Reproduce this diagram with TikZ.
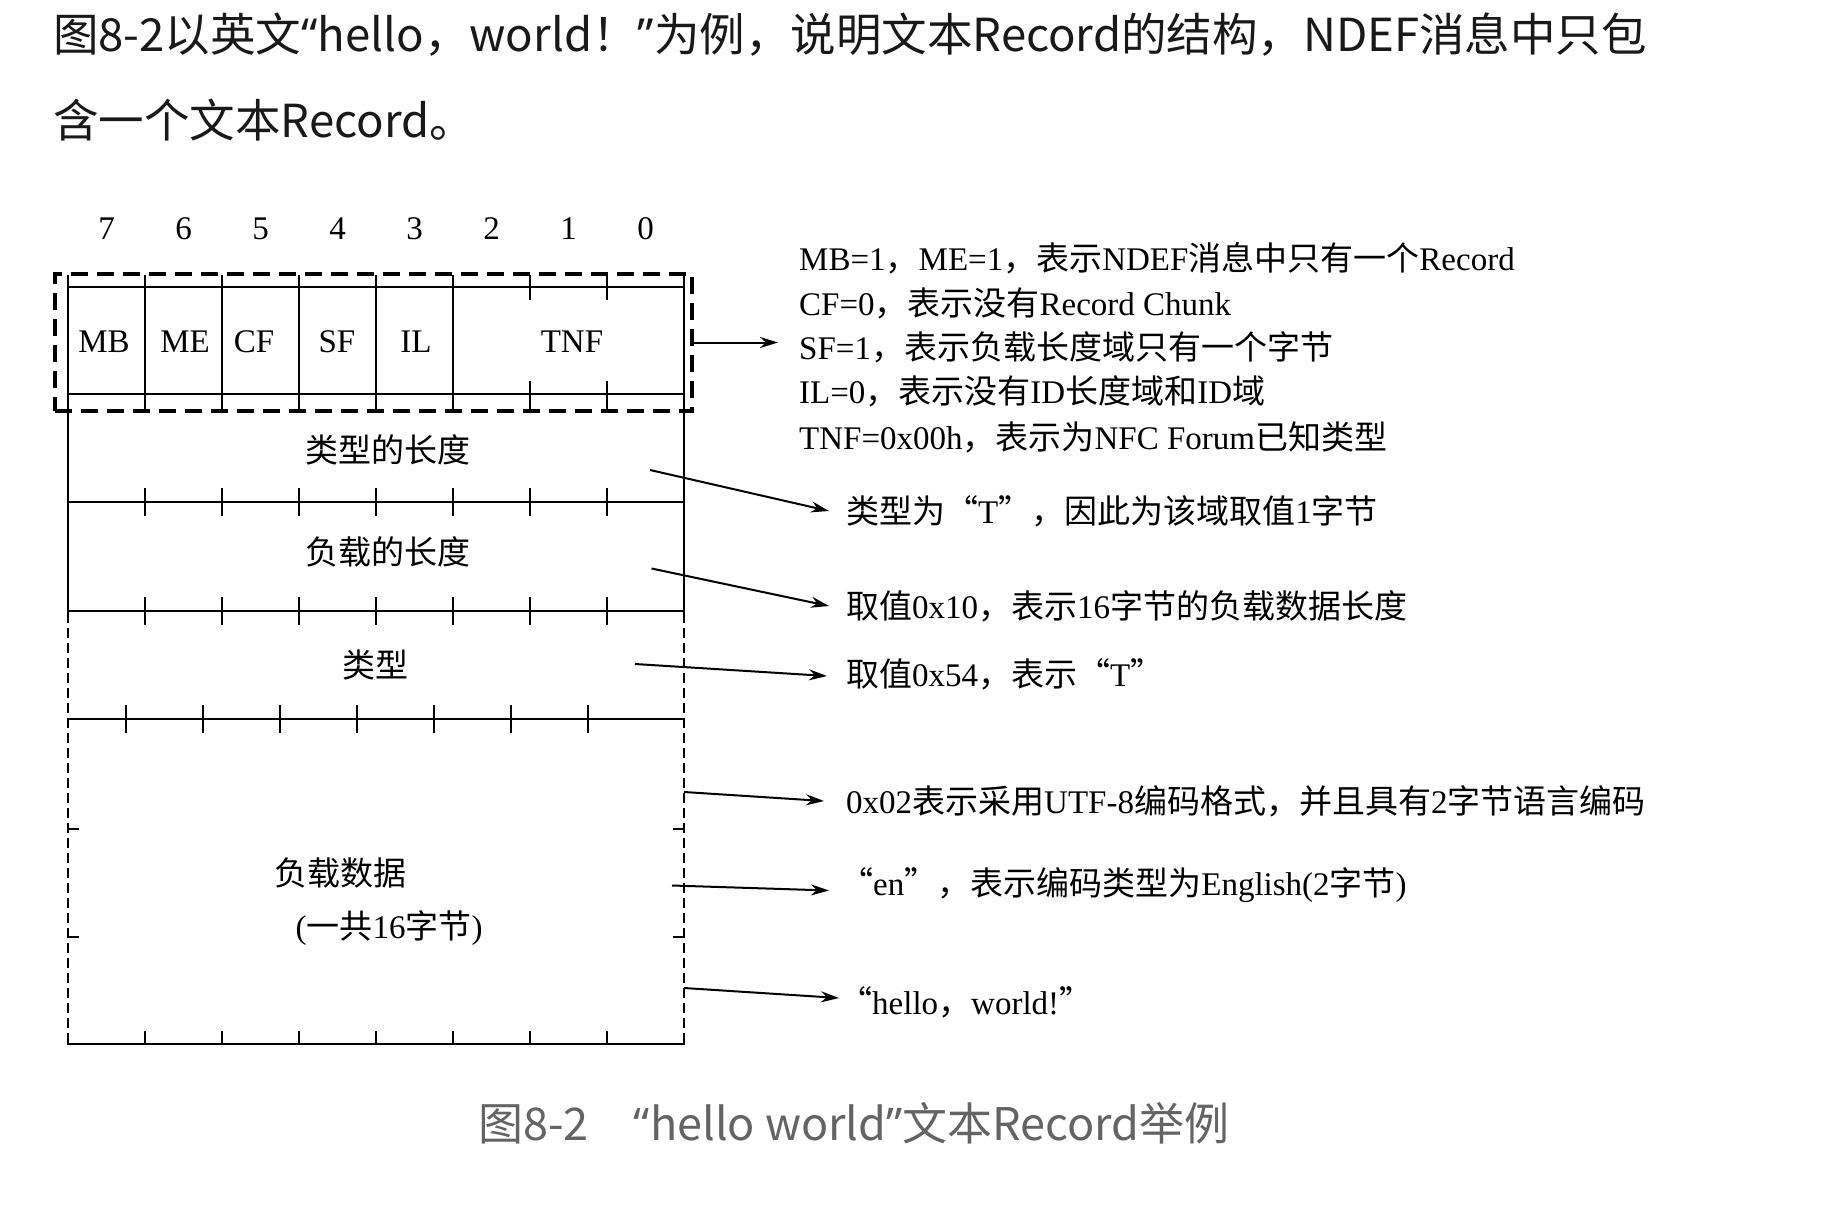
\documentclass[tikz,border=0pt]{standalone}
\usepackage{fontspec}
\setmainfont{Liberation Serif}
\newfontfamily\cjk{Noto Sans CJK SC}
\newfontfamily\qfont{Noto Sans}
\usetikzlibrary{arrows.meta}
\newcommand\zh[1]{{\cjk #1}}
\newcommand\q[1]{{\qfont #1}}
\newcommand\dfont{\fontsize{33}{40}\selectfont}
\definecolor{capgray}{RGB}{100,100,100}
\definecolor{titleblack}{RGB}{25,25,25}
\tikzset{
  boxline/.style={line width=2.4pt},
  hdrbox/.style={draw, line width=4pt, dash pattern=on 17pt off 9pt},
  dsh/.style={line width=2pt, dash pattern=on 10pt off 5pt},
  arr/.style={line width=2pt, -{Stealth[length=18pt,width=11pt]}},
  lbl/.style={inner sep=0pt, font=\dfont},
  rtxt/.style={anchor=west, inner sep=0pt, font=\dfont},
  ttl/.style={anchor=west, inner sep=0pt, text=titleblack, font=\cjk\fontsize{45.5}{54}\selectfont},
}
\begin{document}
\begin{tikzpicture}[x=1pt,y=-1pt]
\useasboundingbox (0,0) rectangle (1834,1220);
\fill[white] (0,0) rectangle (1834,1220);

% title
\node[ttl] (title1) at (53,35) {图8-2以英文\q{“}hello，world！\q{”}为例，说明文本Record的结构，NDEF消息中只包};
\node[ttl] (title2) at (53,120.5) {含一个文本Record。};

% bit numbers
\foreach \b [count=\i from 0] in {7,6,5,4,3,2,1,0}
  \node[lbl] (bit\b) at ({106.5+77*\i},229) {\b};

% header dashed box
\node[hdrbox, minimum width=637pt, minimum height=137pt, inner sep=0pt] (hdr) at (373.5,342.5) {};

% header row lines
\draw[boxline] (68,287) -- (684,287);
\draw[boxline] (68,394) -- (684,394);
\foreach \x in {145,222,299,376,453} \draw[boxline] (\x,275) -- (\x,410);
\foreach \x in {530,607} {\draw[boxline] (\x,275) -- (\x,300); \draw[boxline] (\x,381) -- (\x,410);}

% outer verticals
\draw[boxline] (68,275) -- (68,613);
\draw[boxline] (684,275) -- (684,613);
\draw[dsh] (68,613) -- (68,1045);
\draw[dsh] (684,613) -- (684,1045);

% row lines with ticks
\foreach \y in {502,611} {
  \draw[boxline] (68,\y) -- (684,\y);
  \foreach \i in {1,...,7} \draw[boxline] ({68+77*\i},\y-14) -- ({68+77*\i},\y+14);
}
\draw[boxline] (68,719) -- (684,719);
\foreach \i in {1,...,7} \draw[boxline] ({49+77*\i},705) -- ({49+77*\i},733);
\draw[boxline] (67,1044) -- (685,1044);
\foreach \i in {1,...,7} \draw[boxline] ({68+77*\i},1031) -- ({68+77*\i},1044);
\foreach \y in {829,937} {
  \draw[boxline] (68,\y) -- (79,\y);
  \draw[boxline] (673,\y) -- (684,\y);
}

% header labels
\node[lbl] (mb) at (104,341.5) {MB};
\node[lbl] (me) at (185,341.5) {ME};
\node[lbl] (cf) at (254,341.5) {CF};
\node[lbl] (sf) at (337,341.5) {SF};
\node[lbl] (il) at (416,341.5) {IL};
\node[lbl] (tnf) at (572,341.5) {TNF};

% row labels
\node[lbl] (typelen) at (388,450) {\zh{类型的长度}};
\node[lbl] (paylen) at (388,552) {\zh{负载的长度}};
\node[lbl] (type) at (375.5,664.5) {\zh{类型}};
\node[lbl] (payload) at (340,873) {\zh{负载数据}};
\node[lbl] (paycnt) at (389,928) {(\zh{一共}16\zh{字节})};

% right texts
\node[rtxt] (r1) at (799,258.5) {MB=1\zh{，}ME=1\zh{，表示}NDEF\zh{消息中只有一个}Record};
\node[rtxt] (r2) at (799,303) {CF=0\zh{，表示没有}Record Chunk};
\node[rtxt] (r3) at (799,347) {SF=1\zh{，表示负载长度域只有一个字节}};
\node[rtxt] (r4) at (799,391) {IL=0\zh{，表示没有}ID\zh{长度域和}ID\zh{域}};
\node[rtxt] (r5) at (799,437.5) {TNF=0x00h\zh{，表示为}NFC Forum\zh{已知类型}};
\node[rtxt] (t1) at (846,511) {\zh{类型为“}T\zh{”，因此为该域取值}1\zh{字节}};
\node[rtxt] (t2) at (846,606) {\zh{取值}0x10\zh{，表示}16\zh{字节的负载数据长度}};
\node[rtxt] (t3) at (846,674) {\zh{取值}0x54\zh{，表示“}T\zh{”}};
\node[rtxt] (t4) at (846,801) {0x02\zh{表示采用}UTF-8\zh{编码格式，并且具有}2\zh{字节语言编码}};
\node[rtxt] (t5) at (840,885.5) {\zh{“}en\zh{”，表示编码类型为}English(2\zh{字节})};
\node[rtxt] (t6) at (839,1002) {\zh{“}hello\zh{，}world!\zh{”}};

% arrows
\coordinate (a1e) at (hdr.east -| r3.west);
\coordinate (a2s) at (650,470);
\coordinate (a3s) at (651.5,568.5);
\coordinate (a4s) at (635,664);
\coordinate (a5s) at (684,792);
\coordinate (a6s) at (672,885.5);
\coordinate (a7s) at (684,988);
\draw[arr] (hdr.east) -- ([xshift=-21pt]a1e);
\draw[arr] (a2s) -- ([xshift=-17pt]t1.west);
\draw[arr] (a3s) -- ([xshift=-17pt]t2.west);
\draw[arr] (a4s) -- ([xshift=-19pt,yshift=-2pt]t3.west);
\draw[arr] (a5s) -- ([xshift=-22pt]t4.west);
\draw[arr] (a6s) -- ([xshift=-11pt,yshift=-5pt]t5.west);
\draw[arr] (a7s) -- ([xshift=0pt,yshift=4pt]t6.west);

% caption
\node[inner sep=0pt, text=capgray, font=\cjk\fontsize{45}{52}\selectfont] (caption) at (854,1123) {图8-2　\q{“}hello world\q{”}文本Record举例};
\end{tikzpicture}
\end{document}
